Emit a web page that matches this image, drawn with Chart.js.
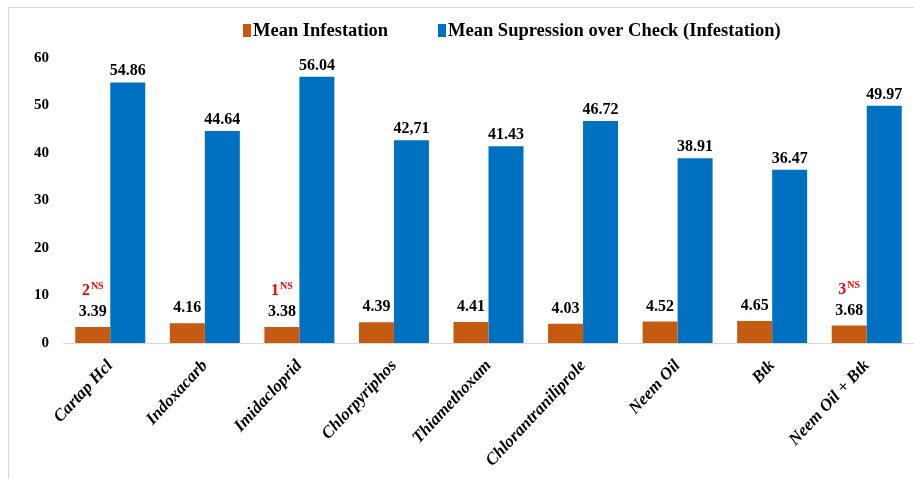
<!DOCTYPE html>
<html><head><meta charset="utf-8">
<script src="https://cdn.jsdelivr.net/npm/chart.js@4/dist/chart.umd.min.js"></script>
<style>
html,body{margin:0;padding:0;background:#fff;overflow:hidden}
#frame{position:absolute;left:8px;top:7px;width:1000px;height:1000px;border-left:1px solid #d9d9d9;border-top:1px solid #d9d9d9}
#wrap{position:absolute;left:0;top:0;width:914px;height:479px}
</style></head><body>
<div id="frame"></div>
<div id="wrap"><canvas id="c" width="914" height="479"></canvas></div>
<script>
const categories = ['Cartap Hcl','Indoxacarb','Imidacloprid','Chlorpyriphos','Thiamethoxam','Chlorantraniliprole','Neem Oil','Btk','Neem Oil + Btk'];
const meanInfestation = [3.39, 4.16, 3.38, 4.39, 4.41, 4.03, 4.52, 4.65, 3.68];
const meanSuppression = [54.86, 44.64, 56.04, 42.71, 41.43, 46.72, 38.91, 36.47, 49.97];
const infestationLabels = ['3.39','4.16','3.38','4.39','4.41','4.03','4.52','4.65','3.68'];
const suppressionLabels = ['54.86','44.64','56.04','42,71','41.43','46.72','38.91','36.47','49.97'];
const rankNumbers = ['2','','1','','','','','','3'];
const rankSuffix = 'NS';
const seriesNames = ['Mean Infestation','Mean Supression over Check (Infestation)'];
const yTicks = [0, 10, 20, 30, 40, 50, 60];

const ORANGE = '#C55A11', BLUE = '#0070C0';
const SERIF = '"Liberation Serif", "Times New Roman", serif';

const valueLabelPlugin = {
  id: 'valueLabels',
  afterDatasetsDraw(chart) {
    const ctx = chart.ctx;
    ctx.save();
    ctx.textAlign = 'center';
    ctx.textBaseline = 'alphabetic';
    const labelSets = [infestationLabels, suppressionLabels];
    const gaps = [11, 7];
    chart.data.datasets.forEach((ds, di) => {
      const meta = chart.getDatasetMeta(di);
      meta.data.forEach((bar, i) => {
        ctx.font = 'bold 16px ' + SERIF;
        ctx.fillStyle = '#000';
        const baseY = bar.y - gaps[di];
        ctx.fillText(labelSets[di][i], bar.x, baseY);
        if (di === 0 && rankNumbers[i]) {
          ctx.fillStyle = '#FF0000';
          ctx.font = 'bold 16px ' + SERIF;
          const w1 = ctx.measureText(rankNumbers[i]).width;
          ctx.font = 'bold 10px ' + SERIF;
          const w2 = ctx.measureText(rankSuffix).width;
          const start = bar.x - (w1 + w2 + 1) / 2;
          ctx.textAlign = 'left';
          ctx.font = 'bold 16px ' + SERIF;
          ctx.fillText(rankNumbers[i], start, baseY - 21);
          ctx.font = 'bold 10px ' + SERIF;
          ctx.fillText(rankSuffix, start + w1 + 1, baseY - 27);
          ctx.textAlign = 'center';
        }
      });
    });
    ctx.restore();
  }
};

const legendPlugin = {
  id: 'customLegend',
  afterDraw(chart) {
    const ctx = chart.ctx;
    ctx.save();
    ctx.font = 'bold 18.5px ' + SERIF;
    ctx.textBaseline = 'middle';
    ctx.textAlign = 'left';
    const starts = [243, 438];
    chart.data.datasets.forEach((ds, i) => {
      const x = starts[i];
      ctx.fillStyle = ds.backgroundColor;
      ctx.fillRect(x, 24, 8, 13);
      ctx.fillStyle = '#000';
      ctx.fillText(ds.label, x + 10, 31);
    });
    ctx.restore();
  }
};

new Chart(document.getElementById('c'), {
  type: 'bar',
  data: {
    labels: categories,
    datasets: [
      { label: seriesNames[0], data: meanInfestation, backgroundColor: ORANGE, borderWidth: 0 },
      { label: seriesNames[1], data: meanSuppression, backgroundColor: BLUE, borderWidth: 0 }
    ]
  },
  options: {
    responsive: false,
    animation: false,
    devicePixelRatio: 1,
    layout: { padding: { top: 58, left: 0, right: 0, bottom: 0 } },
    plugins: { legend: { display: false }, tooltip: { enabled: false }, title: { display: false } },
    datasets: { bar: { barPercentage: 1, categoryPercentage: 0.74 } },
    scales: {
      x: {
        grid: { display: false },
        border: { display: true, color: '#d9d9d9', width: 1 },
        ticks: {
          color: '#000',
          font: { family: SERIF, size: 17, weight: 'bold', style: 'italic' },
          minRotation: 47, maxRotation: 47, autoSkip: false, padding: 5
        },
        afterFit(scale) { scale.height = 136; }
      },
      y: {
        min: 0, max: 60,
        afterBuildTicks(scale) { scale.ticks = yTicks.map(v => ({ value: v })); },
        grid: { display: false, drawTicks: false },
        border: { display: false },
        ticks: { color: '#000', font: { family: SERIF, size: 15, weight: 'bold' }, padding: 14 },
        afterFit(scale) { scale.width = 63; }
      }
    }
  },
  plugins: [valueLabelPlugin, legendPlugin]
});
</script>
</body></html>
